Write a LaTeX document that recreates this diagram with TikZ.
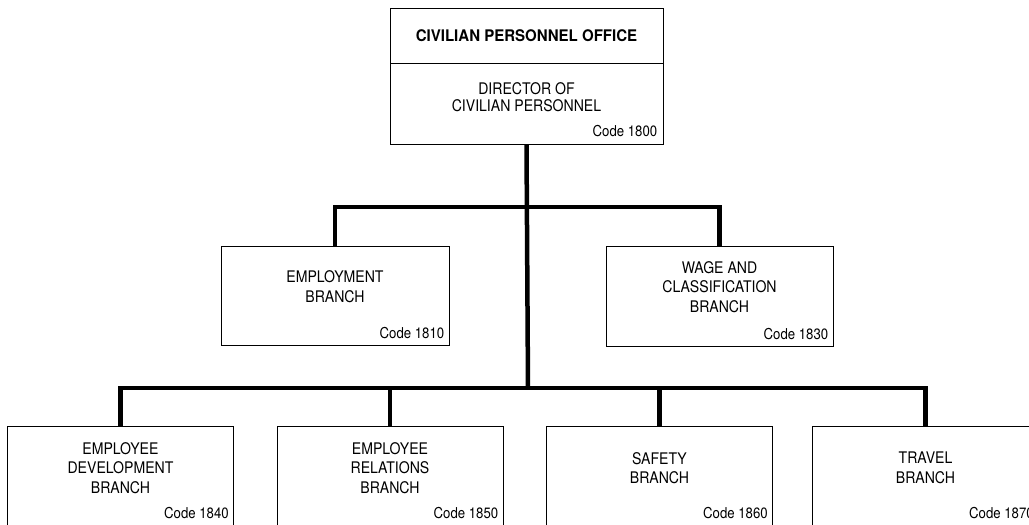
\documentclass[tikz,border=0pt]{standalone}
\usepackage{fontspec}
\setmainfont{TeX Gyre Heros}[FakeStretch=0.88]
\newfontfamily\titlefont{TeX Gyre Heros}[FakeStretch=0.94]
\usepackage{tikz}
\usetikzlibrary{positioning}
\tikzset{
    %Define style for boxes
    unit/.style={
           rectangle,
           draw=black, line width=0.9pt,
           minimum width=227pt,
           minimum height=100pt,
           inner sep=0pt},
    %Define style for texts
    unitname/.style={
           align=center,
           inner sep=0pt,
           yshift=9pt,
           font=\fontsize{16}{19.5}\selectfont},
    unitcode/.style={
           anchor=south east,
           inner sep=0pt,
           xshift=-5pt, yshift=6pt,
           font=\fontsize{15}{18}\selectfont},
    % Define connector style
    link/.style={
           line width=4.5pt,
           line join=miter}
}
\begin{document}
\begin{tikzpicture}[x=1pt,y=-1pt]
\useasboundingbox (0,0) rectangle (1029,525);
% top office
\node[unit, minimum width=273pt, minimum height=55pt](0) at (526.5,35.5)
    {\titlefont\bfseries\fontsize{16}{19}\selectfont CIVILIAN PERSONNEL OFFICE};
\node[unit, minimum width=273pt, minimum height=81pt](00) at (526.5,103.5){};
\node[unitname, font=\fontsize{16}{16.5}\selectfont, yshift=-2.5pt](00n) at (00.center){DIRECTOR OF\\CIVILIAN PERSONNEL};
\node[unitcode, xshift=-1pt, yshift=1pt](00c) at (00.south east){Code 1800};
% first row
\node[unit, minimum width=228pt, minimum height=99pt](1) at (335,295.5){};
\node[unitname](1n) at (1.center){EMPLOYMENT\\BRANCH};
\node[unitcode](1c) at (1.south east){Code 1810};
\node[unit](3) at (719.5,296){};
\node[unitname](3n) at (3.center){WAGE AND\\CLASSIFICATION\\BRANCH};
\node[unitcode](3c) at (3.south east){Code 1830};
% second row
\node[unit, minimum width=226pt, minimum height=102pt](4) at (120.5,477){};
\node[unitname](4n) at (4.center){EMPLOYEE\\DEVELOPMENT\\BRANCH};
\node[unitcode, yshift=3pt](4c) at (4.south east){Code 1840};
\node[unit, minimum width=226pt, minimum height=102pt](5) at (390,477){};
\node[unitname](5n) at (5.center){EMPLOYEE\\RELATIONS\\BRANCH};
\node[unitcode, yshift=3pt](5c) at (5.south east){Code 1850};
\node[unit, minimum width=226pt, minimum height=102pt](6) at (659.5,477){};
\node[unitname](6n) at (6.center){SAFETY\\BRANCH};
\node[unitcode, yshift=3pt](6c) at (6.south east){Code 1860};
\node[unit, minimum width=226pt, minimum height=102pt](7) at (925.5,477){};
\node[unitname](7n) at (7.center){TRAVEL\\BRANCH};
\node[unitcode, yshift=3pt](7c) at (7.south east){Code 1870};
% connectors
\coordinate (j1) at (528,207);
\coordinate (j2) at (528,388);
\draw[link] (00.south) -- (j2);
\draw[link] (1.north) |- (j1) -| (3.north);
\draw[link] (4.north) |- (j2) -| (7.north);
\draw[link] (5.north) -- (5.north |- j2);
\draw[link] (6.north) -- (6.north |- j2);
\end{tikzpicture}
\end{document}
